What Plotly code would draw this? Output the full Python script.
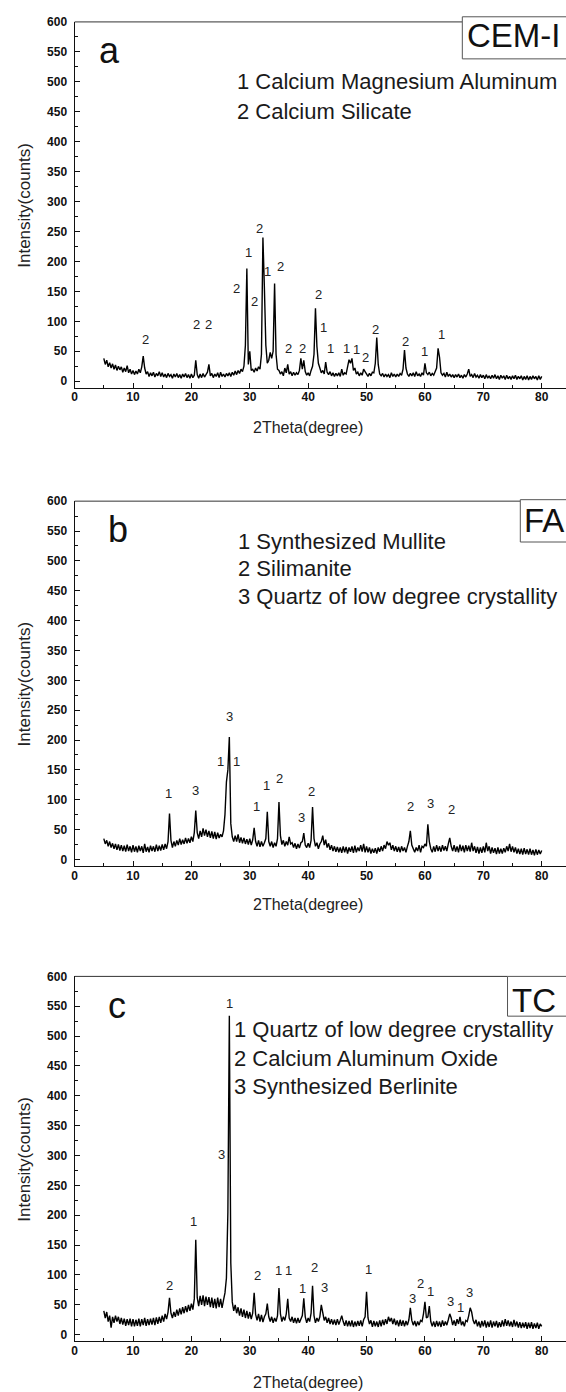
import plotly.graph_objects as go

# ---------------- data ----------------
TWO_THETA = [
    5.0, 5.25, 5.5, 5.75, 6.0, 6.25, 6.5, 6.75, 7.0, 7.25, 7.5, 7.75, 8.0, 8.25, 8.5, 8.75, 9.0, 9.25, 9.5, 9.75,
    10.0, 10.25, 10.5, 10.75, 11.0, 11.25, 11.5, 11.75, 12.0, 12.25, 12.5, 12.75, 13.0, 13.25, 13.5, 13.75, 14.0, 14.25, 14.5, 14.75,
    15.0, 15.25, 15.5, 15.75, 16.0, 16.25, 16.5, 16.75, 17.0, 17.25, 17.5, 17.75, 18.0, 18.25, 18.5, 18.75, 19.0, 19.25, 19.5, 19.75,
    20.0, 20.25, 20.5, 20.75, 21.0, 21.25, 21.5, 21.75, 22.0, 22.25, 22.5, 22.75, 23.0, 23.25, 23.5, 23.75, 24.0, 24.25, 24.5, 24.75,
    25.0, 25.25, 25.5, 25.75, 26.0, 26.25, 26.5, 26.75, 27.0, 27.25, 27.5, 27.75, 28.0, 28.25, 28.5, 28.75, 29.0, 29.25, 29.5, 29.75,
    30.0, 30.25, 30.5, 30.75, 31.0, 31.25, 31.5, 31.75, 32.0, 32.25, 32.5, 32.75, 33.0, 33.25, 33.5, 33.75, 34.0, 34.25, 34.5, 34.75,
    35.0, 35.25, 35.5, 35.75, 36.0, 36.25, 36.5, 36.75, 37.0, 37.25, 37.5, 37.75, 38.0, 38.25, 38.5, 38.75, 39.0, 39.25, 39.5, 39.75,
    40.0, 40.25, 40.5, 40.75, 41.0, 41.25, 41.5, 41.75, 42.0, 42.25, 42.5, 42.75, 43.0, 43.25, 43.5, 43.75, 44.0, 44.25, 44.5, 44.75,
    45.0, 45.25, 45.5, 45.75, 46.0, 46.25, 46.5, 46.75, 47.0, 47.25, 47.5, 47.75, 48.0, 48.25, 48.5, 48.75, 49.0, 49.25, 49.5, 49.75,
    50.0, 50.25, 50.5, 50.75, 51.0, 51.25, 51.5, 51.75, 52.0, 52.25, 52.5, 52.75, 53.0, 53.25, 53.5, 53.75, 54.0, 54.25, 54.5, 54.75,
    55.0, 55.25, 55.5, 55.75, 56.0, 56.25, 56.5, 56.75, 57.0, 57.25, 57.5, 57.75, 58.0, 58.25, 58.5, 58.75, 59.0, 59.25, 59.5, 59.75,
    60.0, 60.25, 60.5, 60.75, 61.0, 61.25, 61.5, 61.75, 62.0, 62.25, 62.5, 62.75, 63.0, 63.25, 63.5, 63.75, 64.0, 64.25, 64.5, 64.75,
    65.0, 65.25, 65.5, 65.75, 66.0, 66.25, 66.5, 66.75, 67.0, 67.25, 67.5, 67.75, 68.0, 68.25, 68.5, 68.75, 69.0, 69.25, 69.5, 69.75,
    70.0, 70.25, 70.5, 70.75, 71.0, 71.25, 71.5, 71.75, 72.0, 72.25, 72.5, 72.75, 73.0, 73.25, 73.5, 73.75, 74.0, 74.25, 74.5, 74.75,
    75.0, 75.25, 75.5, 75.75, 76.0, 76.25, 76.5, 76.75, 77.0, 77.25, 77.5, 77.75, 78.0, 78.25, 78.5, 78.75, 79.0, 79.25, 79.5, 79.75,
    80.0,
]

CEM_I = [
    38, 28, 35, 24, 31, 22, 29, 20, 27, 18, 25, 19, 24, 15, 22, 16, 26, 14, 20, 12,
    18, 11, 17, 12, 20, 14, 24, 42, 22, 12, 16, 8, 14, 9, 15, 7, 13, 9, 16, 8,
    14, 7, 12, 6, 13, 8, 11, 5, 12, 7, 13, 6, 11, 5, 12, 7, 13, 6, 11, 5,
    12, 6, 10, 35, 11, 5, 12, 6, 13, 7, 11, 15, 28, 9, 13, 6, 12, 8, 14, 6,
    15, 8, 12, 7, 13, 9, 14, 8, 15, 10, 17, 11, 18, 13, 20, 16, 25, 60, 188, 28,
    50, 18, 20, 15, 22, 17, 24, 20, 45, 240, 157, 60, 30, 35, 48, 38, 50, 163, 45, 20,
    18, 12, 16, 9, 22, 14, 28, 12, 16, 9, 15, 10, 14, 11, 18, 38, 20, 35, 16, 10,
    14, 9, 18, 25, 45, 122, 58, 30, 22, 14, 18, 12, 32, 15, 11, 16, 9, 14, 8, 13,
    9, 14, 8, 20, 10, 14, 12, 22, 36, 30, 38, 18, 22, 12, 15, 9, 14, 10, 20, 16,
    12, 8, 13, 9, 15, 14, 30, 73, 28, 12, 9, 13, 7, 12, 8, 11, 6, 14, 8, 12,
    7, 12, 8, 13, 10, 20, 52, 22, 12, 8, 13, 9, 14, 8, 16, 9, 12, 8, 14, 10,
    30, 14, 11, 15, 9, 13, 10, 16, 22, 55, 40, 14, 10, 13, 7, 15, 8, 12, 7, 11,
    6, 11, 7, 12, 6, 10, 5, 11, 7, 12, 20, 8, 11, 6, 13, 7, 10, 5, 11, 6,
    10, 4, 11, 5, 9, 4, 10, 5, 11, 4, 9, 3, 10, 5, 9, 3, 10, 4, 8, 3,
    9, 4, 10, 3, 8, 4, 9, 2, 8, 3, 9, 2, 8, 3, 9, 4, 8, 2, 9, 3,
    8,
]

FA = [
    35, 26, 32, 22, 30, 20, 27, 18, 26, 16, 25, 15, 24, 14, 23, 13, 25, 14, 22, 12,
    24, 13, 22, 12, 23, 14, 22, 11, 26, 13, 21, 12, 23, 14, 22, 13, 25, 14, 23, 15,
    25, 16, 26, 18, 30, 77, 32, 20, 30, 22, 32, 24, 35, 25, 33, 26, 36, 27, 35, 28,
    38, 30, 45, 82, 45, 35, 48, 38, 52, 40, 50, 38, 48, 36, 47, 35, 46, 34, 45, 36,
    42, 38, 48, 75, 130, 150, 205, 60, 38, 30, 40, 30, 42, 28, 37, 27, 36, 26, 34, 25,
    35, 24, 33, 53, 30, 22, 32, 21, 30, 22, 28, 35, 80, 30, 22, 30, 20, 28, 22, 35,
    96, 40, 25, 32, 22, 30, 24, 38, 26, 28, 20, 27, 18, 26, 19, 28, 30, 44, 24, 20,
    27, 20, 32, 88, 35, 22, 28, 18, 26, 30, 40, 24, 33, 20, 27, 16, 24, 14, 22, 13,
    21, 12, 20, 11, 22, 12, 21, 10, 20, 13, 22, 11, 23, 12, 20, 14, 24, 13, 26, 12,
    22, 12, 20, 10, 18, 11, 19, 10, 20, 13, 22, 14, 24, 18, 30, 24, 28, 16, 24, 14,
    22, 13, 21, 12, 22, 14, 20, 12, 22, 30, 48, 24, 18, 12, 20, 14, 24, 12, 22, 20,
    26, 22, 59, 30, 18, 12, 22, 13, 24, 14, 22, 13, 24, 15, 22, 14, 26, 36, 22, 14,
    24, 13, 22, 12, 25, 14, 23, 12, 24, 14, 23, 13, 28, 14, 22, 11, 21, 10, 20, 11,
    22, 12, 28, 14, 22, 10, 20, 11, 19, 9, 20, 10, 18, 10, 19, 12, 22, 14, 26, 13,
    22, 12, 20, 10, 18, 9, 18, 8, 19, 9, 17, 8, 18, 8, 16, 7, 17, 8, 16, 9,
    15,
]

TC = [
    40, 28, 38, 22, 32, 12, 30, 20, 32, 22, 30, 18, 28, 17, 27, 15, 26, 16, 27, 14,
    26, 14, 25, 15, 27, 14, 26, 16, 28, 15, 26, 16, 27, 17, 28, 16, 29, 18, 30, 20,
    32, 22, 35, 26, 38, 62, 36, 28, 38, 30, 42, 32, 44, 34, 46, 36, 48, 38, 50, 40,
    52, 42, 60, 159, 62, 48, 65, 50, 66, 48, 64, 50, 63, 46, 62, 45, 60, 44, 62, 46,
    60, 45, 58, 70, 95, 205, 534, 120, 55, 40, 50, 36, 46, 32, 44, 30, 42, 28, 40, 27,
    38, 26, 36, 70, 34, 24, 35, 22, 33, 21, 30, 35, 52, 30, 22, 30, 20, 28, 22, 32,
    78, 35, 22, 30, 24, 35, 60, 28, 22, 30, 20, 28, 19, 28, 20, 26, 32, 61, 30, 20,
    28, 22, 36, 82, 32, 20, 28, 22, 30, 50, 38, 24, 30, 20, 28, 18, 26, 17, 25, 16,
    26, 17, 24, 32, 22, 15, 24, 14, 23, 14, 24, 13, 22, 14, 23, 15, 24, 14, 25, 30,
    72, 28, 18, 24, 13, 23, 14, 22, 13, 24, 14, 25, 16, 26, 18, 30, 22, 28, 18, 27,
    16, 24, 14, 25, 15, 24, 14, 23, 16, 25, 45, 24, 16, 23, 14, 22, 16, 24, 22, 35,
    55, 28, 30, 48, 22, 14, 22, 13, 23, 14, 22, 13, 24, 15, 22, 16, 25, 35, 28, 16,
    24, 15, 26, 18, 30, 16, 22, 14, 24, 22, 32, 45, 38, 24, 18, 25, 14, 22, 12, 23,
    14, 24, 12, 22, 13, 24, 12, 22, 14, 23, 12, 21, 13, 24, 14, 26, 15, 24, 14, 22,
    13, 25, 14, 22, 12, 21, 11, 20, 12, 21, 10, 20, 11, 21, 10, 19, 11, 20, 10, 18,
    14,
]

# peak markers (phase numbers)
A_PEAK_X = [12.2, 20.8, 23.0, 27.7, 29.7, 31.6, 33.1, 35.3, 30.8, 41.8, 42.6, 36.6, 39.0, 43.9, 46.6, 48.2, 49.8, 51.5, 56.7, 60.0, 62.9]
A_PEAK_Y = [70, 95, 94, 154, 215, 255, 183, 192, 133, 145, 89, 55, 54, 54, 54, 53, 39, 86, 67, 50, 78]
A_PEAK_T = ["2", "2", "2", "2", "1", "2", "1", "2", "2", "2", "1", "2", "2", "1", "1", "1", "2", "2", "2", "1", "1"]

B_PEAK_X = [16.0, 20.7, 25.0, 27.8, 26.6, 31.1, 32.9, 35.1, 40.6, 38.8, 57.6, 61.0, 64.5]
B_PEAK_Y = [110, 116, 164, 164, 240, 89, 124, 136, 114, 71, 88, 93, 83]
B_PEAK_T = ["1", "3", "1", "1", "3", "1", "1", "2", "2", "3", "2", "3", "2"]

C_PEAK_X = [16.3, 20.4, 25.1, 26.5, 31.4, 34.9, 36.6, 41.0, 39.0, 42.8, 50.3, 57.8, 59.3, 61.0, 64.3, 66.1, 67.7]
C_PEAK_Y = [82, 190, 302, 555, 99, 108, 108, 112, 78, 79, 110, 61, 86, 73, 56, 45, 70]
C_PEAK_T = ["2", "1", "3", "1", "2", "1", "1", "2", "1", "3", "1", "3", "2", "1", "3", "1", "3"]

A_PHASES = ["1 Calcium Magnesium Aluminum", "2 Calcium Silicate"]
B_PHASES = ["1 Synthesized Mullite", "2 Silimanite", "3 Quartz of low degree crystallity"]
C_PHASES = ["1 Quartz of low degree crystallity", "2 Calcium Aluminum Oxide", "3 Synthesized Berlinite"]

X_TICKS = [0, 10, 20, 30, 40, 50, 60, 70, 80]
Y_TICKS = [0, 50, 100, 150, 200, 250, 300, 350, 400, 450, 500, 550, 600]

# ---------------- layout geometry ----------------
W, H = 566, 1392
X_LEFT_PX = 72
X_MAX = 84.16
Y_RANGE = [-11, 600]
FONT = "Liberation Sans, Arial, sans-serif"

panels = [
    dict(letter="a", sample="CEM-I", y=CEM_I, px=A_PEAK_X, py=A_PEAK_Y, pt=A_PEAK_T, phases=A_PHASES,
         phase_x=27.4, phase_y=[500, 450], top=15, bottom=383, title_px=423, letter_x=3.9,
         box_left=0.789, box_top=1.014, box_bottom=0.899, sample_x=0.795, sample_y=0.962),
    dict(letter="b", sample="FA", y=FA, px=B_PEAK_X, py=B_PEAK_Y, pt=B_PEAK_T, phases=B_PHASES,
         phase_x=27.6, phase_y=[533, 487, 440], top=497, bottom=864, title_px=903, letter_x=5.4,
         box_left=0.907, box_top=1.004, box_bottom=0.888, sample_x=0.910, sample_y=0.948),
    dict(letter="c", sample="TC", y=TC, px=C_PEAK_X, py=C_PEAK_Y, pt=C_PEAK_T, phases=C_PHASES,
         phase_x=27.0, phase_y=[511, 463, 415], top=975, bottom=1342, title_px=1383, letter_x=5.4,
         box_left=0.881, box_top=1.0, box_bottom=0.891, sample_x=0.886, sample_y=0.935),
]

fig = go.Figure()
annotations = []
shapes = []
layout_axes = {}

for i, p in enumerate(panels):
    n = "" if i == 0 else str(i + 1)
    xa, ya = "x" + n, "y" + n
    fig.add_trace(go.Scatter(
        x=TWO_THETA, y=p["y"], xaxis=xa, yaxis=ya, mode="lines",
        line=dict(color="#000000", width=1.4), showlegend=False, hoverinfo="skip"))

    ydom = [1 - p["bottom"] / H, 1 - p["top"] / H]
    layout_axes["xaxis" + n] = dict(
        domain=[X_LEFT_PX / W, 1.0], range=[0, X_MAX], anchor=ya,
        tickvals=X_TICKS, ticks="inside", ticklen=5, tickwidth=1, tickcolor="#111",
        showline=True, linecolor="#111", linewidth=1.3, showgrid=False, zeroline=False,
        minor=dict(dtick=5, tick0=0, ticks="inside", ticklen=3, tickcolor="#111", showgrid=False),
        tickfont=dict(family=FONT, size=12, color="#111", weight="bold"), ticklabelstandoff=-2)
    layout_axes["yaxis" + n] = dict(
        domain=ydom, range=Y_RANGE, anchor=xa,
        tickvals=Y_TICKS, ticks="inside", ticklen=5, tickwidth=1, tickcolor="#111",
        showline=True, linecolor="#111", linewidth=1.3, showgrid=False, zeroline=False,
        minor=dict(dtick=25, tick0=0, ticks="inside", ticklen=3, tickcolor="#111", showgrid=False),
        tickfont=dict(family=FONT, size=12, color="#111", weight="bold"), ticklabelstandoff=4)

    # peak numbers
    for xx, yy, tt in zip(p["px"], p["py"], p["pt"]):
        annotations.append(dict(x=xx, y=yy, xref=xa, yref=ya, text=tt, showarrow=False,
                                font=dict(family=FONT, size=13, color="#222")))
    # phase legend text
    for txt, yy in zip(p["phases"], p["phase_y"]):
        annotations.append(dict(x=p["phase_x"], y=yy, xref=xa, yref=ya, text=txt, showarrow=False,
                                xanchor="left", yanchor="middle",
                                font=dict(family=FONT, size=22, color="#1a1a1a")))
    # panel letter
    annotations.append(dict(x=p["letter_x"], y=552, xref=xa, yref=ya, text=p["letter"], showarrow=False,
                            xanchor="left", yanchor="middle",
                            font=dict(family=FONT, size=36, color="#111")))
    # top frame line up to the sample box
    shapes.append(dict(type="line", xref=xa + " domain", yref=ya + " domain",
                       x0=0, x1=p["box_left"], y0=1, y1=1, line=dict(color="#333", width=1)))
    # sample name box
    shapes.append(dict(type="rect", xref=xa + " domain", yref=ya + " domain",
                       x0=p["box_left"], x1=1.08, y0=p["box_bottom"], y1=p["box_top"],
                       line=dict(color="#555", width=1), fillcolor="white", layer="above"))
    annotations.append(dict(x=p["sample_x"], y=p["sample_y"], xref=xa + " domain", yref=ya + " domain",
                            text=p["sample"], showarrow=False, xanchor="left", yanchor="middle",
                            font=dict(family=FONT, size=33, color="#111")))
    # axis titles
    annotations.append(dict(x=22 / W, y=(ydom[0] + ydom[1]) / 2, xref="paper", yref="paper",
                            text="Intensity(counts)", textangle=-90, showarrow=False,
                            xanchor="center", yanchor="middle",
                            font=dict(family=FONT, size=17, color="#222")))
    annotations.append(dict(x=40, y=1 - p["title_px"] / H, xref=xa, yref="paper",
                            text="2Theta(degree)", showarrow=False,
                            xanchor="center", yanchor="middle",
                            font=dict(family=FONT, size=16, color="#222")))

fig.update_layout(
    width=W, height=H, margin=dict(l=0, r=0, t=0, b=0),
    paper_bgcolor="white", plot_bgcolor="white",
    annotations=annotations, shapes=shapes, showlegend=False,
    **layout_axes)

fig.write_html("out.html")
